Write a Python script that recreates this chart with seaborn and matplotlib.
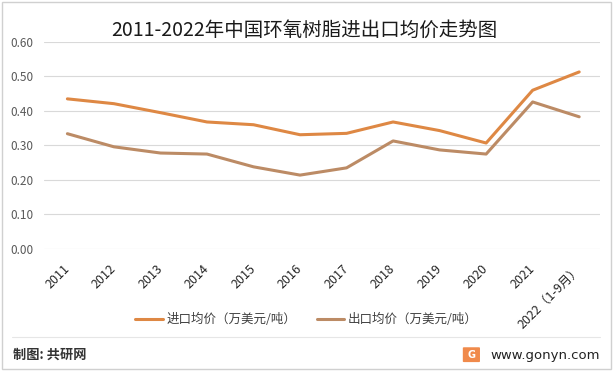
import matplotlib
matplotlib.use("Agg")
import matplotlib.pyplot as plt
import seaborn as sns
import pandas as pd
from matplotlib.patches import Rectangle, FancyBboxPatch
from matplotlib.lines import Line2D

# data
years = ["2011", "2012", "2013", "2014", "2015", "2016", "2017", "2018",
         "2019", "2020", "2021", "2022（1-9月）"]
import_price = [0.435, 0.421, 0.395, 0.368, 0.360, 0.331, 0.335, 0.368,
                0.343, 0.307, 0.460, 0.513]
export_price = [0.334, 0.296, 0.278, 0.275, 0.238, 0.214, 0.235, 0.313,
                0.287, 0.275, 0.426, 0.383]
series_names = ["进口均价（万美元/吨）", "出口均价（万美元/吨）"]
colors = ["#DE8844", "#BC8B65"]

df = pd.DataFrame({"year": years * 2,
                   "price": import_price + export_price,
                   "series": [series_names[0]] * len(years) + [series_names[1]] * len(years)})
df["x"] = list(range(len(years))) * 2

sns.set_theme(style="white")
plt.rcParams["font.family"] = ["Noto Sans CJK SC", "DejaVu Sans"]

fig = plt.figure(figsize=(6.13, 3.71), dpi=100)
ax = fig.add_axes([0.072, 0.329, 0.907, 0.558])

sns.lineplot(data=df, x="x", y="price", hue="series", palette=colors,
             linewidth=2.2, ax=ax, legend=False)

ax.set_ylim(0, 0.6)
ax.set_xlim(-0.5, 11.45)
ax.set_yticks([0, 0.1, 0.2, 0.3, 0.4, 0.5, 0.6])
ax.set_yticklabels([f"{v:.2f}" for v in ax.get_yticks()], fontsize=8.5, color="#595959")
ax.set_xticks(range(len(years)))
ax.set_xticklabels(years, rotation=45, ha="right", va="center", rotation_mode="anchor",
                   fontsize=9, color="#262626")
ax.tick_params(axis="x", pad=13, length=0)
ax.tick_params(axis="y", pad=8, length=0)
ax.grid(axis="y", color="#D9D9D9", linewidth=0.8)
ax.grid(axis="x", visible=False)
ax.set_xlabel("")
ax.set_ylabel("")
for s in ax.spines.values():
    s.set_visible(False)
ax.set_axisbelow(True)

fig.text(0.497, 0.918, "2011-2022年中国环氧树脂进出口均价走势图", ha="center", va="center",
         fontsize=14, color="#1a1a1a")

handles = [Line2D([], [], color=c, linewidth=2.2) for c in colors]
fig.legend(handles, series_names, loc="center", bbox_to_anchor=(0.5, 0.138),
           ncol=2, frameon=False, fontsize=9, handlelength=2.2, columnspacing=1.6,
           handletextpad=0.3, labelcolor="#404040")

# footer
fig.add_artist(Line2D([0.02, 0.978], [0.092, 0.092], color="#E6E6E6", linewidth=0.8))
fig.text(0.022, 0.043, "制图: 共研网", ha="left", va="center", fontsize=9.5,
         fontweight="bold", color="#333333")
fig.text(0.978, 0.043, "www.gonyn.com", ha="right", va="center", fontsize=9.5,
         color="#222222", family=["DejaVu Sans"])
fig.add_artist(FancyBboxPatch((0.757, 0.026), 0.024, 0.036, boxstyle="round,pad=0.002",
                              facecolor="#F08A4B", edgecolor="none", transform=fig.transFigure))
fig.text(0.769, 0.044, "G", ha="center", va="center", fontsize=7, color="white",
         fontweight="bold", family=["DejaVu Sans"])

# outer border
fig.add_artist(Rectangle((0.004, 0.006), 0.992, 0.988, fill=False, edgecolor="#D0D0D0",
                         linewidth=1.0, transform=fig.transFigure))

fig.savefig("out.png", dpi=100)
